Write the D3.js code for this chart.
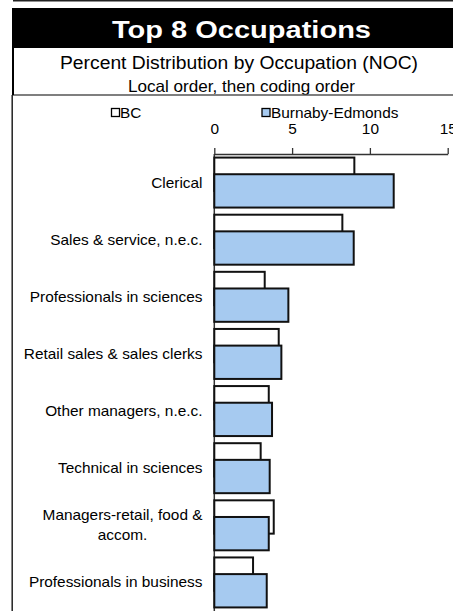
<!DOCTYPE html>
<html><head><meta charset="utf-8">
<script src="https://cdn.jsdelivr.net/npm/d3@7"></script>
<style>
html,body{margin:0;padding:0;background:#fff;}
svg{display:block;font-family:Arial,"Liberation Sans",sans-serif;}
</style></head>
<body>
<svg id="c" width="453" height="611"></svg>
<script>
const categories = ["Clerical","Sales & service, n.e.c.","Professionals in sciences","Retail sales & sales clerks","Other managers, n.e.c.","Technical in sciences","Managers-retail, food & accom.","Professionals in business"];
const seriesNames = ["BC","Burnaby-Edmonds"];
const bcValues = [9.0, 8.23, 3.24, 4.14, 3.5, 2.98, 3.82, 2.49];
const beValues = [11.53, 8.96, 4.76, 4.31, 3.71, 3.56, 3.5, 3.37];
const tickValues = [0, 5, 10, 15];
const title = "Top 8 Occupations";
const subtitle1 = "Percent Distribution by Occupation (NOC)";
const subtitle2 = "Local order, then coding order";

const svg = d3.select("#c");
const SX = 1.1;

// header
svg.append("line").attr("x1",13).attr("x2",453).attr("y1",0.7).attr("y2",0.7).attr("stroke","#222").attr("stroke-width",1.4);
svg.append("rect").attr("x",12).attr("y",8).attr("width",441).attr("height",40).attr("fill","#000");
svg.append("text").attr("x",241.5).attr("y",37.5).attr("text-anchor","middle").attr("fill","#fff")
  .attr("font-weight","bold").attr("font-size",24).attr("textLength",259).attr("lengthAdjust","spacingAndGlyphs").text(title);
svg.append("text").attr("x",239).attr("y",68.5).attr("text-anchor","middle").attr("fill","#000")
  .attr("font-size",17.5).attr("textLength",358).attr("lengthAdjust","spacingAndGlyphs").text(subtitle1);
svg.append("text").attr("x",241.5).attr("y",91.5).attr("text-anchor","middle").attr("fill","#000")
  .attr("font-size",16.5).attr("textLength",227).attr("lengthAdjust","spacingAndGlyphs").text(subtitle2);
svg.append("line").attr("x1",12).attr("x2",453).attr("y1",95).attr("y2",95).attr("stroke","#555").attr("stroke-width",1.4);
svg.append("line").attr("x1",13).attr("x2",13).attr("y1",48).attr("y2",95).attr("stroke","#000").attr("stroke-width",2);
svg.append("line").attr("x1",12.2).attr("x2",12.2).attr("y1",95).attr("y2",611).attr("stroke","#222").attr("stroke-width",1.5);

// scales
const x = d3.scaleLinear().domain([0,15]).range([214.3, 447.7]);
const y = d3.scaleBand().domain(categories).range([154, 611]).paddingInner(0).paddingOuter(0);
const band = y.bandwidth();
const groupH = band * 0.875;
const barH = groupH * 2 / 3;
const off = (band - groupH) / 2;

// legend
const legend = [
  {name: seriesNames[0], fill: "#fff", sx: 111.5, tx: 120},
  {name: seriesNames[1], fill: "#a6caf0", sx: 262, tx: 271}
];
legend.forEach(l => {
  svg.append("rect").attr("x",l.sx).attr("y",108.5).attr("width",8).attr("height",8)
    .attr("fill",l.fill).attr("stroke","#000").attr("stroke-width",1.3);
  svg.append("g").attr("transform",`translate(${l.tx},118.3)`)
    .append("text").attr("transform",`scale(${SX},1)`).attr("font-size",14).attr("fill","#000").text(l.name);
});

// axis
const axis = svg.append("g").attr("transform","translate(0,154)")
  .call(d3.axisTop(x).tickValues(tickValues).tickSize(6).tickSizeOuter(0).tickFormat(d3.format("d")));
axis.select(".domain").attr("stroke","#333").attr("stroke-width",1.5);
axis.selectAll(".tick line").attr("stroke","#333").attr("stroke-width",1.3);
axis.selectAll(".tick text").attr("y",-20).attr("dy",0).attr("font-size",14).attr("fill","#000")
  .attr("font-family",'Arial,"Liberation Sans",sans-serif').attr("transform",`scale(${SX},1)`);

// category axis line
svg.append("line").attr("x1",x(0)).attr("x2",x(0)).attr("y1",154).attr("y2",611).attr("stroke","#333").attr("stroke-width",1.5);

// bars
const rows = categories.map((c,i)=>({c, bc: bcValues[i], be: beValues[i]}));
svg.append("g").selectAll("rect").data(rows).join("rect")
  .attr("x", x(0)).attr("y", d => y(d.c) + off)
  .attr("width", d => x(d.bc) - x(0)).attr("height", barH)
  .attr("fill","#fff").attr("stroke","#111").attr("stroke-width",2);
svg.append("g").selectAll("rect").data(rows).join("rect")
  .attr("x", x(0)).attr("y", d => y(d.c) + off + barH/2)
  .attr("width", d => x(d.be) - x(0)).attr("height", barH)
  .attr("fill","#a6caf0").attr("stroke","#111").attr("stroke-width",2);

// category labels
const maxW = 190 / SX;
categories.forEach(c => {
  const cy = y(c) + band/2;
  const g = svg.append("g").attr("transform",`translate(202.5,${cy})`);
  const t = g.append("text").attr("transform",`scale(${SX},1)`).attr("font-size",14).attr("fill","#000");
  // greedy wrap
  const words = c.split(" ");
  const lines = [];
  let cur = "";
  const probe = t.append("tspan");
  words.forEach(w => {
    const test = cur ? cur + " " + w : w;
    probe.text(test);
    if (probe.node().getComputedTextLength() > maxW && cur) { lines.push(cur); cur = w; }
    else cur = test;
  });
  lines.push(cur);
  probe.remove();
  const widths = lines.map(l => { const p = t.append("tspan").text(l); const w = p.node().getComputedTextLength(); p.remove(); return w; });
  const mw = Math.max(...widths);
  const lh = 20;
  const y0 = -(lines.length - 1) * lh / 2 + 5;
  lines.forEach((l, i) => {
    t.append("tspan").attr("x", -mw/2).attr("y", y0 + i*lh).attr("text-anchor","middle").text(l);
  });
});
</script>
</body></html>
